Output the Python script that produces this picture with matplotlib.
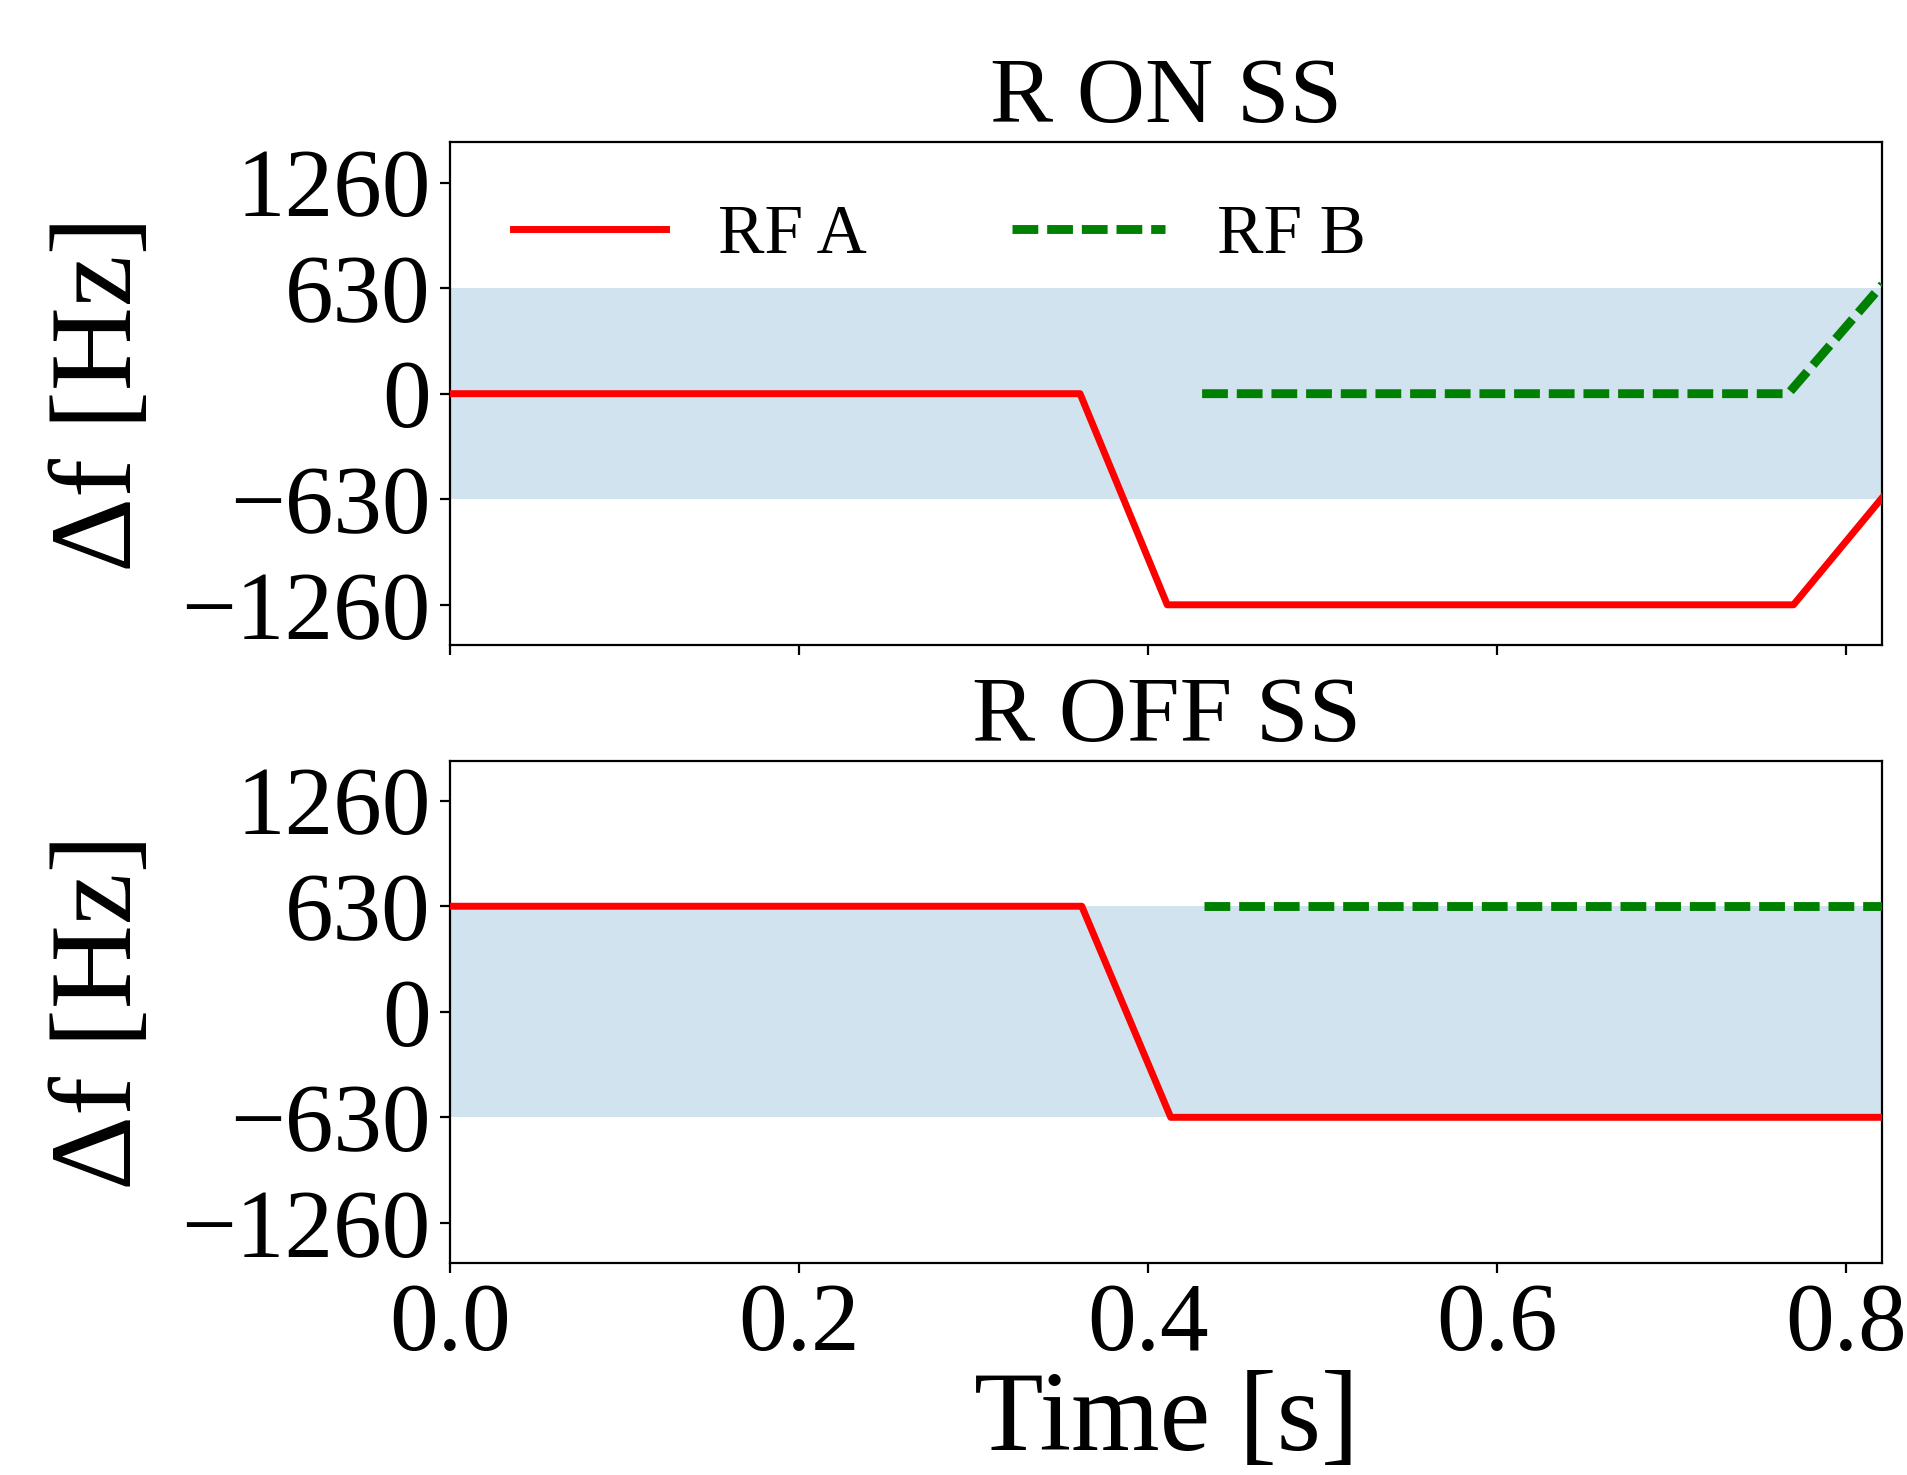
import matplotlib
matplotlib.use("Agg")
import matplotlib.pyplot as plt

# ---- data ----
time_ticks = [0.0, 0.2, 0.4, 0.6, 0.8]
df_ticks = [-1260, -630, 0, 630, 1260]
band = (-630, 630)

# R ON SS
on_t_a = [0.0, 0.361, 0.411, 0.770, 0.821]
on_f_a = [0, 0, -1260, -1260, -619]
on_t_b = [0.431, 0.767, 0.821]
on_f_b = [0, 0, 651]

# R OFF SS
off_t_a = [0.0, 0.362, 0.413, 0.821]
off_f_a = [630, 630, -630, -630]
off_t_b = [0.432, 0.821]
off_f_b = [630, 630]

plt.rcParams.update({
    "font.family": ["Liberation Serif", "DejaVu Serif"],
    "axes.unicode_minus": True,
    "xtick.labelsize": 35,
    "ytick.labelsize": 35,
})

fig = plt.figure(figsize=(9.54, 7.375), dpi=200)
ax_on = fig.add_axes([0.236, 0.5627, 0.7506, 0.3408])
ax_off = fig.add_axes([0.236, 0.1437, 0.7506, 0.3407], sharex=ax_on)

panels = [
    (ax_on, "R ON SS", on_t_a, on_f_a, on_t_b, on_f_b),
    (ax_off, "R OFF SS", off_t_a, off_f_a, off_t_b, off_f_b),
]
for ax, title, ta, fa, tb, fb in panels:
    ax.axhspan(band[0], band[1], color="C0", alpha=0.2, lw=0, zorder=0)
    ax.plot(ta, fa, color="red", lw=2.5, label="RF A", zorder=3)
    ax.plot(tb, fb, color="green", lw=3.2, ls="--", dashes=(2.9, 1.0),
            label="RF B", zorder=3)
    ax.set_yticks(df_ticks)
    ax.set_ylim(-1500, 1500)
    ax.set_ylabel("Δf [Hz]", fontsize=42, labelpad=9)
    ax.set_title(title, fontsize=34, pad=7)

ax_on.set_xlim(0, 0.821)
ax_on.set_xticks(time_ticks)
ax_on.tick_params(axis="x", labelbottom=False)
ax_off.set_xlabel("Time [s]", fontsize=41, labelpad=0)

ax_on.legend(loc="upper left", ncol=2, frameon=False, fontsize=25,
             handlelength=2.2, handletextpad=0.75, columnspacing=2.1)

fig.savefig("out.png", dpi=200)
